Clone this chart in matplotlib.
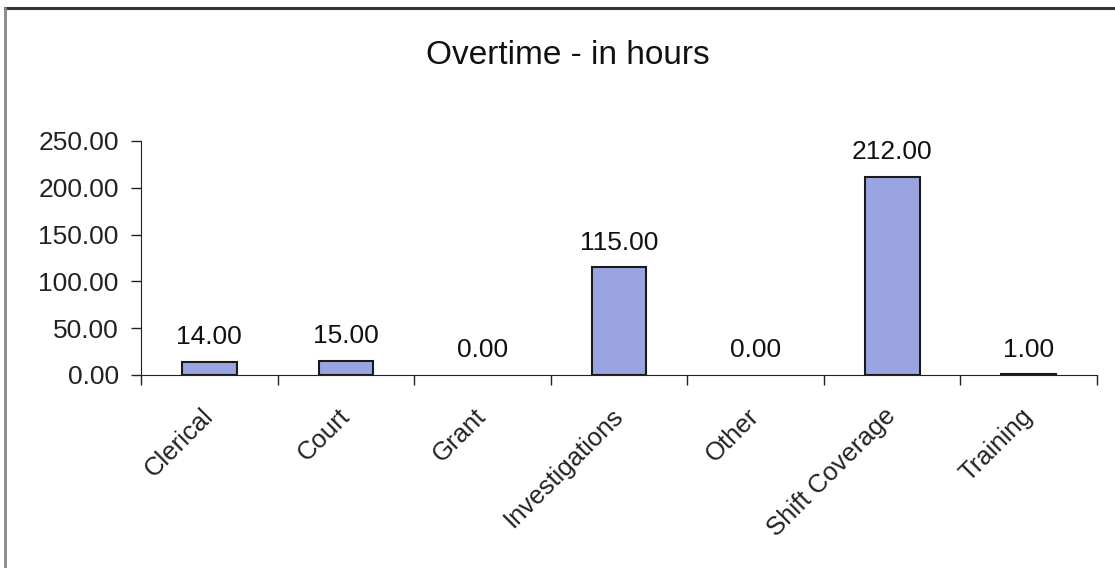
import matplotlib
matplotlib.use("Agg")
import matplotlib.pyplot as plt
from matplotlib.lines import Line2D
from matplotlib.ticker import FormatStrFormatter, FixedLocator

categorias = ["Clerical", "Court", "Grant", "Investigations", "Other",
              "Shift Coverage", "Training"]
horas = [14.0, 15.0, 0.0, 115.0, 0.0, 212.0, 1.0]

COLOR_BARRA = "#9AA4E0"
COLOR_TEXTO = "#111111"

plt.rcParams.update({
    "font.family": ["Liberation Sans", "DejaVu Sans"],
    "text.color": COLOR_TEXTO,
    "axes.edgecolor": "#222222",
    "xtick.color": "#222222",
    "ytick.color": "#222222",
})

fig = plt.figure(figsize=(11.15, 5.68), dpi=100)
fig.patch.set_facecolor("white")
ax = fig.add_axes([0.1265, 0.3398, 0.8574, 0.412])

x = range(len(categorias))
barras = ax.bar(x, horas, width=0.4, color=COLOR_BARRA,
                edgecolor="#1a1a1a", linewidth=1.5, zorder=3)
# las barras en cero no se dibujan (como en Excel)
for b, v in zip(barras, horas):
    if v == 0:
        b.set_visible(False)
ax.bar_label(barras, labels=[f"{v:.2f}" for v in horas], padding=9,
             fontsize=19)

ax.set_xlim(-0.5, len(categorias) - 0.5)
ax.set_ylim(0, 250)
ax.set_yticks(range(0, 251, 50))
ax.yaxis.set_major_formatter(FormatStrFormatter("%.2f"))
ax.tick_params(axis="y", labelsize=19, length=7, width=1, pad=9)

# etiquetas en el centro, marcas entre categorías (estilo Excel)
ax.set_xticks(list(x))
ax.set_xticklabels(categorias, rotation=45, ha="right", va="center",
                   rotation_mode="anchor", fontsize=18.5)
ax.tick_params(axis="x", which="major", length=0, pad=27)
ax.xaxis.set_minor_locator(FixedLocator([i + 0.5 for i in range(-1, len(categorias))]))
ax.tick_params(axis="x", which="minor", length=7, width=1)

ax.spines["top"].set_visible(False)
ax.spines["right"].set_visible(False)

fig.text(0.509, 0.903, "Overtime - in hours", ha="center", va="center",
         fontsize=24)

# marco de la figura (solo arriba e izquierda visibles)
fig.add_artist(Line2D([0.0045, 1.0], [0.986, 0.986], color="#333333",
                      linewidth=2.2, transform=fig.transFigure))
fig.add_artist(Line2D([0.0045, 0.0045], [0.0, 0.986], color="#888888",
                      linewidth=2.0, transform=fig.transFigure))

fig.savefig("out.png", dpi=100, facecolor="white")
